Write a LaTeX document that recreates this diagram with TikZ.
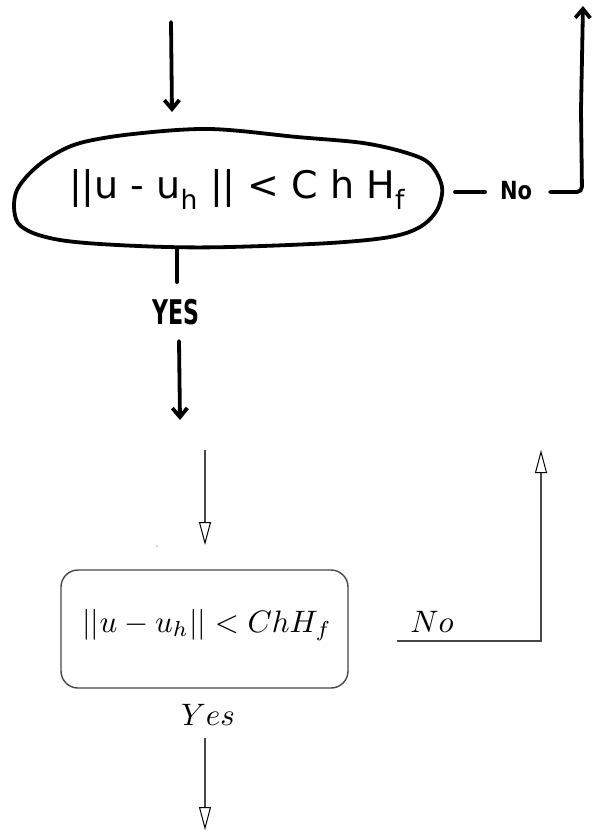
\documentclass[tikz,border=0pt]{standalone}
\usepackage{fontspec}
\newfontfamily\hand{DejaVu Sans}
\usetikzlibrary{arrows.meta}
\begin{document}
\begin{tikzpicture}[x=1pt,y=-1pt,
  hstroke/.style={line width=3.8pt, line cap=round, line join=round},
  hhead/.style={-{Straight Barb[length=9pt,width=15pt]}},
  hfont/.style={font=\hand\bfseries\fontsize{#1}{#1}\selectfont, inner sep=0pt},
  tline/.style={draw=black!72, line width=1.4pt},
  thead/.style={-{Triangle[open,length=23pt,width=12pt,black,line width=1pt]}},
  tlabel/.style={scale=3.1, inner sep=0pt}]
\useasboundingbox (0,0) rectangle (592,833);
% ---------- hand-drawn sketch ----------
\draw[hstroke] plot[smooth cycle, tension=0.55] coordinates {(14,207) (17,190) (30,173) (50,157) (80,143) (133,134) (210,129) (297,137) (363,143) (407,153) (430,164) (442,187) (437,210) (420,227) (390,237) (330,243) (230,247) (167,247) (100,244) (60,240) (33,233) (18,223)};
\node[font=\hand\fontsize{38}{44}\selectfont, inner sep=0pt, anchor=base] (hcond) at (237,198) {||u - u\textsubscript{h} || < C h H\textsubscript{f}};
\coordinate (t1) at (171,22);
\coordinate (t2) at (172,112);
\draw[hstroke,hhead] (t1) -- (t2);
\coordinate (s1) at (177,249);
\coordinate (s2) at (177,282);
\draw[hstroke] (s1) -- (s2);
\node[hfont=34, xscale=0.65] (yes1) at (176,312) {YES};
\coordinate (b1) at (179,341);
\coordinate (b2) at (180,420);
\draw[hstroke,hhead] (b1) -- (b2);
\coordinate (d1) at (455,192);
\coordinate (d2) at (485,192);
\draw[hstroke] (d1) -- (d2);
\node[hfont=25, xscale=0.84] (no1) at (516,191) {No};
\coordinate (n1) at (550,192);
\coordinate (n2) at (582,192);
\coordinate (n3) at (583,6);
\draw[hstroke,hhead,rounded corners=5pt] (n1) -- (n2) -- (581,110) -- (n3);
% ---------- typeset diagram ----------
\coordinate (a1) at (205,450);
\coordinate (a2) at (205,545);
\draw[tline,thead] (a1) -- (a2);
\fill[black!70] (157,546) circle (0.7pt);
\node[draw=black!72, line width=1.4pt, rounded corners=17pt, minimum width=287pt, minimum height=118pt] (box) at (204.5,629) {};
\node[tlabel, anchor=base] (cond) at (207,632) {$||u-u_h||<ChH_f$};
\node[tlabel] (no2) at (432,622) {$No$};
\coordinate (r1) at (397,641);
\coordinate (r2) at (541,641);
\coordinate (r3) at (541,450);
\draw[tline,thead] (r1) -- (r2) -- (r3);
\node[tlabel] (yes2) at (208,715) {$Yes$};
\coordinate (c1) at (205,738);
\coordinate (c2) at (205,830);
\draw[tline,thead] (c1) -- (c2);
\end{tikzpicture}
\end{document}
